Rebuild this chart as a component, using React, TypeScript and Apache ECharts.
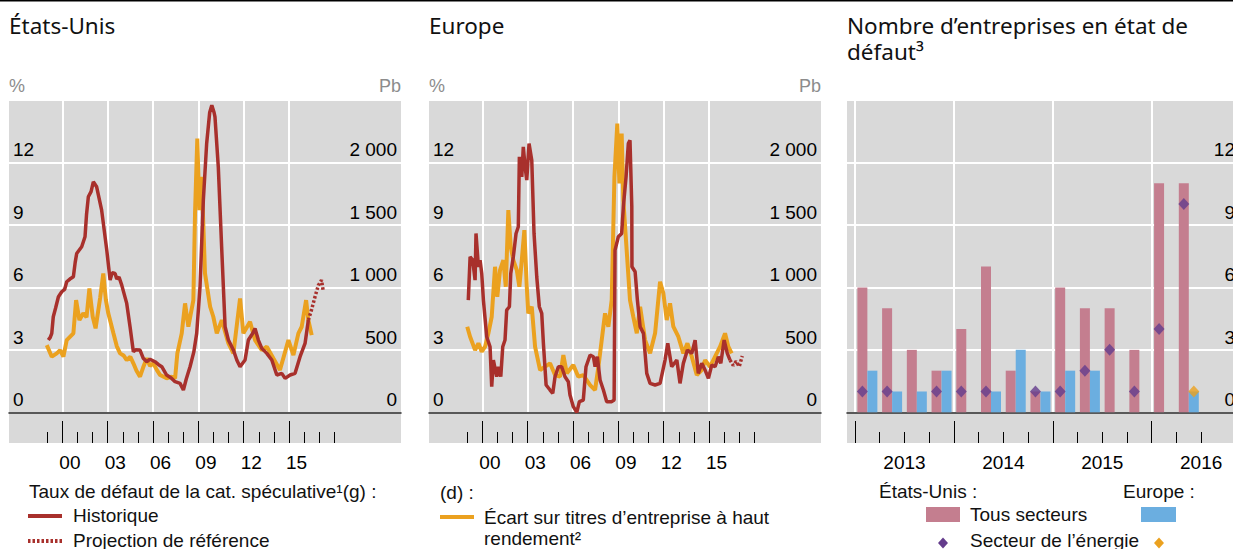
import { useEffect, useRef } from 'react';
import * as echarts from 'echarts';

// ---------- DATA ----------
// US speculative-grade default rate (%), [year, value]
const usDefaultHist: [number, number][] = [
  [1999.07, 3.47], [1999.2, 3.6], [1999.3, 3.79], [1999.4, 4.59], [1999.55, 5.0], [1999.74, 5.55],
  [1999.96, 5.79], [2000.15, 5.9], [2000.29, 6.27], [2000.5, 6.4], [2000.73, 6.51], [2000.85, 7.2],
  [2000.95, 7.63], [2001.28, 7.95], [2001.5, 8.43], [2001.6, 9.5], [2001.72, 10.35], [2001.9, 10.6],
  [2002.05, 11.07], [2002.27, 10.83], [2002.6, 9.71], [2002.94, 7.79], [2003.16, 6.35], [2003.3, 6.7],
  [2003.49, 6.67], [2003.6, 6.4], [2003.75, 6.5], [2003.93, 6.11], [2004.26, 5.23], [2004.48, 4.11],
  [2004.7, 2.91], [2004.85, 3.0], [2005.14, 2.99], [2005.35, 2.6], [2005.59, 2.43], [2005.8, 2.55],
  [2006.13, 2.43], [2006.35, 2.3], [2006.58, 2.19], [2006.9, 1.79], [2007.2, 1.65], [2007.46, 1.47],
  [2007.79, 1.39], [2008.01, 1.07], [2008.2, 1.6], [2008.45, 2.19], [2008.7, 2.9], [2008.89, 3.79],
  [2009.11, 6.03], [2009.33, 10.19], [2009.55, 12.91], [2009.75, 14.4], [2009.89, 14.75], [2010.04, 14.4],
  [2010.1, 14.19], [2010.32, 11.79], [2010.55, 7.79], [2010.77, 4.11], [2010.99, 3.47], [2011.32, 2.99],
  [2011.55, 2.5], [2011.76, 2.19], [2012.09, 2.51], [2012.31, 3.47], [2012.6, 3.8], [2012.75, 4.03],
  [2012.97, 3.47], [2013.2, 3.07], [2013.53, 2.83], [2013.86, 2.51], [2014.19, 1.79], [2014.52, 1.87],
  [2014.74, 1.63], [2015.07, 1.79], [2015.4, 1.87], [2015.73, 2.67], [2016.06, 3.31], [2016.28, 4.43],
];
const usDefaultProj: [number, number][] = [
  [2016.28, 4.43], [2016.5, 4.95], [2016.72, 5.55], [2016.94, 6.1], [2017.15, 6.35], [2017.27, 5.8],
];
// US high-yield spread (bp)
const usSpreadBp: [number, number][] = [
  [1998.97, 538], [1999.3, 445], [1999.63, 472], [1999.85, 498], [2000.07, 445], [2000.29, 578],
  [2000.73, 632], [2000.91, 898], [2001.13, 738], [2001.39, 792], [2001.6, 760], [2001.79, 992],
  [2002.01, 765], [2002.2, 672], [2002.5, 915], [2002.71, 1112], [2002.88, 900], [2003.04, 792],
  [2003.38, 632], [2003.6, 530], [2003.82, 472], [2004.05, 455], [2004.26, 418], [2004.5, 445],
  [2004.7, 392], [2004.9, 335], [2005.14, 285], [2005.35, 360], [2005.59, 432], [2005.8, 370],
  [2006.02, 392], [2006.25, 340], [2006.47, 298], [2006.9, 272], [2007.24, 285], [2007.46, 272],
  [2007.61, 472], [2007.9, 632], [2008.12, 872], [2008.34, 685], [2008.67, 898], [2008.78, 1592],
  [2008.93, 2192], [2009.07, 1618], [2009.22, 1885], [2009.44, 1112], [2009.78, 845], [2009.99, 765],
  [2010.22, 632], [2010.55, 738], [2010.99, 552], [2011.32, 472], [2011.76, 912], [2011.98, 632],
  [2012.42, 725], [2012.75, 578], [2013.2, 498], [2013.53, 525], [2013.96, 432], [2014.4, 338],
  [2014.96, 578], [2015.29, 458], [2015.62, 632], [2015.84, 685], [2016.13, 898], [2016.28, 738],
  [2016.5, 618],
];
// Europe speculative-grade default rate (%)
const euDefaultHist: [number, number][] = [
  [1999.07, 5.39], [1999.19, 7.47], [1999.36, 7.31], [1999.52, 6.35], [1999.58, 8.59], [1999.74, 6.99],
  [1999.85, 7.31], [1999.96, 6.67], [2000.07, 5.39], [2000.29, 3.63], [2000.51, 3.15], [2000.62, 1.23],
  [2000.73, 2.51], [2000.95, 1.71], [2001.06, 2.19], [2001.22, 1.71], [2001.35, 3.15], [2001.5, 3.47],
  [2001.61, 4.91], [2001.79, 5.07], [2001.88, 6.67], [2002.05, 7.47], [2002.23, 8.59], [2002.38, 8.91],
  [2002.45, 12.27], [2002.61, 11.31], [2002.71, 12.75], [2002.83, 11.79], [2002.94, 11.15], [2003.09, 12.91],
  [2003.27, 12.11], [2003.42, 8.59], [2003.6, 6.51], [2003.77, 5.07], [2003.93, 4.75], [2004.04, 3.31],
  [2004.22, 1.31], [2004.48, 1.07], [2004.66, 0.91], [2004.81, 1.71], [2005.03, 2.19], [2005.25, 2.19],
  [2005.47, 1.71], [2005.69, 1.47], [2005.8, 0.83], [2006.02, 0.27], [2006.25, 0.0], [2006.42, 0.51],
  [2006.68, 0.59], [2006.86, 2.19], [2007.13, 2.75], [2007.35, 2.67], [2007.46, 2.19], [2007.61, 2.67],
  [2007.79, 1.55], [2008.01, 1.07], [2008.23, 0.51], [2008.56, 0.51], [2008.72, 0.59], [2008.78, 7.79],
  [2009.0, 8.43], [2009.22, 8.59], [2009.33, 9.87], [2009.51, 11.31], [2009.66, 12.91], [2009.77, 13.07],
  [2009.89, 9.87], [2009.9, 6.99], [2010.11, 6.75], [2010.26, 5.39], [2010.44, 4.11], [2010.66, 3.79],
  [2010.88, 1.87], [2011.1, 1.39], [2011.43, 1.31], [2011.76, 1.39], [2012.09, 2.51], [2012.27, 3.31],
  [2012.53, 2.19], [2012.87, 2.51], [2013.08, 1.39], [2013.3, 2.35], [2013.57, 2.99], [2013.86, 2.83],
  [2014.08, 3.47], [2014.29, 1.87], [2014.52, 2.35], [2014.74, 2.03], [2014.96, 1.63], [2015.18, 2.27],
  [2015.4, 2.19], [2015.62, 2.67], [2015.78, 2.35], [2016.0, 3.47], [2016.21, 2.83], [2016.39, 2.51],
];
const euDefaultProj: [number, number][] = [
  [2016.39, 2.51], [2016.6, 2.25], [2016.8, 2.45], [2017.0, 2.2], [2017.2, 2.7],
];
// Europe high-yield spread (bp)
const euSpreadBp: [number, number][] = [
  [1999.0, 685], [1999.19, 605], [1999.52, 498], [1999.74, 552], [1999.96, 485], [2000.18, 525],
  [2000.4, 632], [2000.62, 765], [2000.84, 1165], [2000.99, 925], [2001.17, 1138], [2001.39, 1218],
  [2001.55, 1005], [2001.72, 1618], [2001.88, 1325], [2002.05, 1218], [2002.28, 1138], [2002.45, 1005],
  [2002.61, 1218], [2002.78, 1458], [2002.94, 1005], [2003.04, 792], [2003.27, 845], [2003.49, 525],
  [2003.82, 338], [2004.15, 365], [2004.48, 392], [2004.81, 298], [2005.14, 285], [2005.36, 458],
  [2005.59, 312], [2006.02, 378], [2006.35, 285], [2006.68, 298], [2007.13, 218], [2007.46, 178],
  [2007.68, 365], [2007.9, 578], [2008.12, 792], [2008.34, 685], [2008.56, 898], [2008.74, 1885],
  [2008.93, 2312], [2009.07, 1832], [2009.22, 2232], [2009.33, 1698], [2009.55, 1298], [2009.77, 898],
  [2009.99, 765], [2010.22, 632], [2010.44, 845], [2010.77, 578], [2011.1, 472], [2011.43, 632],
  [2011.76, 1045], [2011.98, 952], [2012.2, 738], [2012.42, 872], [2012.64, 685], [2012.97, 605],
  [2013.3, 472], [2013.57, 552], [2013.86, 445], [2014.19, 298], [2014.52, 338], [2014.74, 418],
  [2015.07, 365], [2015.4, 445], [2015.73, 525], [2016.06, 632], [2016.28, 525], [2016.5, 472],
];

// Number of defaulted firms, quarterly 2013 T1 .. 2016 T2
const quarters = ['2013 T1', '2013 T2', '2013 T3', '2013 T4', '2014 T1', '2014 T2', '2014 T3', '2014 T4',
  '2015 T1', '2015 T2', '2015 T3', '2015 T4', '2016 T1', '2016 T2'];
const usAllSectors = [6, 5, 3, 2, 4, 7, 2, 1, 6, 5, 5, 3, 11, 11];
const euAllSectors = [2, 1, 1, 2, 0, 1, 3, 1, 2, 2, 0, 0, 0, 1];
const usEnergy: (number | null)[] = [1, 1, null, 1, 1, 1, null, 1, 1, 2, 3, 1, 4, 10];
const euEnergy: (number | null)[] = [null, null, null, null, null, null, null, null, null, null, null, null, null, 1];

// Tick values
const majorYears = [2000, 2003, 2006, 2009, 2012, 2015];
const minorYears = [1999, 2001, 2002, 2004, 2005, 2007, 2008, 2010, 2011, 2013, 2014, 2016, 2017, 2018];
const yearLabelPos = [2000.5, 2003.5, 2006.5, 2009.5, 2012.5, 2015.5];
const barMajorQ = [0, 4, 8, 12];
const barMinorQ = [1, 2, 3, 5, 6, 7, 9, 10, 11, 13, 14];
const barYearLabelPos = [2, 6, 10, 14];

// ---------- STYLE ----------
const RED = '#A8302C';
const ORANGE = '#EBA11F';
const PINK = '#C47E8F';
const BLUE = '#6BAEE0';
const PURPLE = '#643C8C';
const BG = '#D9D9D9';
const NUM_FONT = "'Liberation Sans', Arial, sans-serif";
const TITLE_FONT = "'Noto Sans', sans-serif";

const TOP = 100;
const MAIN_H = 312.3;
const TICK_H = 30.7;
const PW = 392;
const PANEL_X = [9, 429, 847];
const X_MIN = 1996.47;
const X_MAX = 2022.41;
const Q_MIN = -0.324;
const Q_MAX = 15.53;

function grids() {
  const g: any[] = [];
  PANEL_X.forEach((x) => {
    g.push({ left: x, top: TOP, width: PW, height: MAIN_H, show: true, backgroundColor: BG, borderWidth: 0, containLabel: false, outerBoundsMode: 'none' });
    g.push({ left: x, top: TOP + MAIN_H, width: PW, height: TICK_H, show: true, backgroundColor: BG, borderWidth: 0, containLabel: false, outerBoundsMode: 'none' });
    g.push({ left: x, top: TOP + MAIN_H, width: PW, height: TICK_H, show: false, containLabel: false, outerBoundsMode: 'none' });
  });
  return g;
}

function xAxesFor(p: number, min: number, max: number, majors: number[], minors: number[], labelPos: number[], fmt: (v: number) => string) {
  const g = p * 3;
  return [
    {
      gridIndex: g, type: 'value', min, max,
      axisLine: { show: true, onZero: false, lineStyle: { color: '#222', width: 1.5 } },
      axisTick: { show: false, customValues: majors },
      axisLabel: { show: false },
      splitLine: { show: true, lineStyle: { color: '#fff', width: 2 } },
    },
    {
      gridIndex: g + 1, type: 'value', min, max, position: 'bottom',
      axisLine: { show: false },
      axisTick: { show: true, inside: true, length: 22, lineStyle: { color: '#000', width: 1 }, customValues: majors },
      axisLabel: { show: true, customValues: labelPos, formatter: fmt, margin: 10, color: '#000', fontSize: 19, fontFamily: NUM_FONT },
      splitLine: { show: false },
    },
    {
      gridIndex: g + 2, type: 'value', min, max, position: 'bottom',
      axisLine: { show: false },
      axisTick: { show: true, inside: true, length: 11, lineStyle: { color: '#000', width: 1 }, customValues: minors },
      axisLabel: { show: false },
      splitLine: { show: false },
    },
  ];
}

const yLabel = (inside: boolean) => ({
  inside, margin: 4, verticalAlign: 'bottom', padding: [0, 0, 3, 0], showMaxLabel: false,
  color: '#000', fontSize: 19, fontFamily: NUM_FONT,
});

function lineYAxes(p: number) {
  const g = p * 3;
  return [
    {
      gridIndex: g, type: 'value', min: 0, max: 15, interval: 3, position: 'left',
      name: '%', nameLocation: 'end', nameGap: 5,
      nameTextStyle: { color: '#8c8c8c', fontSize: 18, align: 'left', verticalAlign: 'bottom', fontFamily: NUM_FONT },
      axisLine: { show: false }, axisTick: { show: false },
      axisLabel: yLabel(true),
      splitLine: { show: true, lineStyle: { color: '#fff', width: 2 } },
    },
    {
      gridIndex: g, type: 'value', min: 0, max: 2500, interval: 500, position: 'right',
      name: 'Pb', nameLocation: 'end', nameGap: 5,
      nameTextStyle: { color: '#8c8c8c', fontSize: 18, align: 'right', verticalAlign: 'bottom', fontFamily: NUM_FONT },
      axisLine: { show: false }, axisTick: { show: false },
      axisLabel: { ...yLabel(true), formatter: (v: number) => (v >= 1000 ? `${Math.floor(v / 1000)} ${String(v % 1000).padStart(3, '0')}` : String(v)) },
      splitLine: { show: false },
    },
    { gridIndex: g + 1, type: 'value', min: 0, max: 1, show: false },
    { gridIndex: g + 2, type: 'value', min: 0, max: 1, show: false },
  ];
}

const yearFmt = (v: number) => String(Math.floor(v) % 100).padStart(2, '0');
const qFmt = (v: number) => String(2013 + Math.floor(v / 4));

const xAxis = [
  ...xAxesFor(0, X_MIN, X_MAX, majorYears, minorYears, yearLabelPos, yearFmt),
  ...xAxesFor(1, X_MIN, X_MAX, majorYears, minorYears, yearLabelPos, yearFmt),
  ...xAxesFor(2, Q_MIN, Q_MAX, barMajorQ, barMinorQ, barYearLabelPos, qFmt),
];

const yAxis = [
  ...lineYAxes(0),
  ...lineYAxes(1),
  {
    gridIndex: 6, type: 'value', min: 0, max: 15, interval: 3, position: 'right',
    axisLine: { show: false }, axisTick: { show: false },
    axisLabel: yLabel(true),
    splitLine: { show: true, lineStyle: { color: '#fff', width: 2 } },
  },
  { gridIndex: 7, type: 'value', min: 0, max: 1, show: false },
  { gridIndex: 8, type: 'value', min: 0, max: 1, show: false },
];

const lineBase = { type: 'line', showSymbol: false, symbol: 'none', silent: true, smooth: false };

const series: any[] = [
  { ...lineBase, name: 'US spread', xAxisIndex: 0, yAxisIndex: 1, data: usSpreadBp, lineStyle: { color: ORANGE, width: 4 } },
  { ...lineBase, name: 'US default', xAxisIndex: 0, yAxisIndex: 0, data: usDefaultHist, lineStyle: { color: RED, width: 3.5 } },
  { ...lineBase, name: 'US proj', xAxisIndex: 0, yAxisIndex: 0, data: usDefaultProj, lineStyle: { color: RED, width: 3.5, type: [2.5, 2] } },
  { ...lineBase, name: 'EU spread', xAxisIndex: 3, yAxisIndex: 5, data: euSpreadBp, lineStyle: { color: ORANGE, width: 4 } },
  { ...lineBase, name: 'EU default', xAxisIndex: 3, yAxisIndex: 4, data: euDefaultHist, lineStyle: { color: RED, width: 3.5 } },
  { ...lineBase, name: 'EU proj', xAxisIndex: 3, yAxisIndex: 4, data: euDefaultProj, lineStyle: { color: RED, width: 3.5, type: [2.5, 2] } },
  {
    type: 'bar', name: 'Tous secteurs US', xAxisIndex: 6, yAxisIndex: 8, barWidth: 10, barGap: '0%', silent: true,
    itemStyle: { color: PINK }, data: usAllSectors.map((v, i) => [i + 0.5, v]),
  },
  {
    type: 'bar', name: 'Tous secteurs Europe', xAxisIndex: 6, yAxisIndex: 8, barWidth: 10, barGap: '0%', silent: true,
    itemStyle: { color: BLUE }, data: euAllSectors.map((v, i) => [i + 0.5, v]),
  },
  {
    type: 'scatter', name: 'Énergie US', xAxisIndex: 6, yAxisIndex: 8, symbol: 'diamond', symbolSize: [11, 12],
    symbolOffset: [-5, 0], silent: true, itemStyle: { color: PURPLE }, z: 5,
    data: usEnergy.map((v, i) => (v == null ? null : [i + 0.5, v])).filter((d) => d !== null),
  },
  {
    type: 'scatter', name: 'Énergie Europe', xAxisIndex: 6, yAxisIndex: 8, symbol: 'diamond', symbolSize: [11, 12],
    symbolOffset: [5, 0], silent: true, itemStyle: { color: ORANGE }, z: 5,
    data: euEnergy.map((v, i) => (v == null ? null : [i + 0.5, v])).filter((d) => d !== null),
  },
];

const txt = (text: string, x: number, y: number, extra: any = {}) => ({
  type: 'text', x, y, silent: true,
  style: { text, fill: '#111', fontSize: 19, fontFamily: NUM_FONT, align: 'left', verticalAlign: 'middle', ...extra },
});

const diamond = (cx: number, cy: number, color: string) => ({
  type: 'polygon', silent: true,
  shape: { points: [[cx, cy - 5.5], [cx + 5, cy], [cx, cy + 5.5], [cx - 5, cy]] },
  style: { fill: color },
});

const graphic = [
  { type: 'line', silent: true, shape: { x1: 0, y1: 0.75, x2: 1245, y2: 0.75 }, style: { stroke: '#000', lineWidth: 1.5 } },
  // left legend
  txt('Taux de défaut de la cat. spéculative¹(g) :', 29, 491),
  { type: 'line', silent: true, shape: { x1: 28, y1: 516, x2: 62, y2: 516 }, style: { stroke: RED, lineWidth: 4 } },
  txt('Historique', 73, 515),
  { type: 'line', silent: true, shape: { x1: 28, y1: 541, x2: 62, y2: 541 }, style: { stroke: RED, lineWidth: 4, lineDash: [2.5, 2] } },
  txt('Projection de référence', 73, 540),
  // middle legend
  txt('(d) :', 440, 492),
  { type: 'line', silent: true, shape: { x1: 440, y1: 517, x2: 474, y2: 517 }, style: { stroke: ORANGE, lineWidth: 4 } },
  txt('Écart sur titres d’entreprise à haut', 484, 517),
  txt('rendement²', 484, 538),
  // right legend
  txt('États-Unis :', 879, 491),
  txt('Europe :', 1123, 491),
  { type: 'rect', silent: true, shape: { x: 926, y: 507, width: 34, height: 15 }, style: { fill: PINK } },
  txt('Tous secteurs', 970, 514),
  { type: 'rect', silent: true, shape: { x: 1141, y: 507, width: 35, height: 15 }, style: { fill: BLUE } },
  diamond(943, 543, PURPLE),
  txt('Secteur de l’énergie', 970, 540),
  diamond(1159, 543, ORANGE),
];

const titleStyle = { fontFamily: TITLE_FONT, fontSize: 22.5, fontWeight: 'normal', color: '#111', lineHeight: 25 };
const title = [
  { text: 'États-Unis', left: 9, top: 13, padding: 0, textStyle: titleStyle },
  { text: 'Europe', left: 429, top: 13, padding: 0, textStyle: titleStyle },
  { text: 'Nombre d’entreprises en état de', left: 847, top: 13, padding: 0, textStyle: titleStyle },
  { text: 'défaut³', left: 847, top: 39, padding: 0, textStyle: titleStyle },
];

const option: any = {
  animation: false,
  backgroundColor: '#fff',
  title,
  grid: grids(),
  xAxis,
  yAxis,
  series,
  graphic,
  tooltip: { show: false },
};

export default function App() {
  const ref = useRef<HTMLDivElement>(null);
  useEffect(() => {
    if (!ref.current) return;
    const chart = echarts.init(ref.current, null, { renderer: 'svg' });
    chart.setOption(option);
    return () => chart.dispose();
  }, []);
  return (
    <div style={{ position: 'fixed', left: 0, top: 0, width: 1233, height: 549, overflow: 'hidden', background: '#fff' }}>
      <div ref={ref} style={{ width: 1245, height: 549 }} />
    </div>
  );
}
